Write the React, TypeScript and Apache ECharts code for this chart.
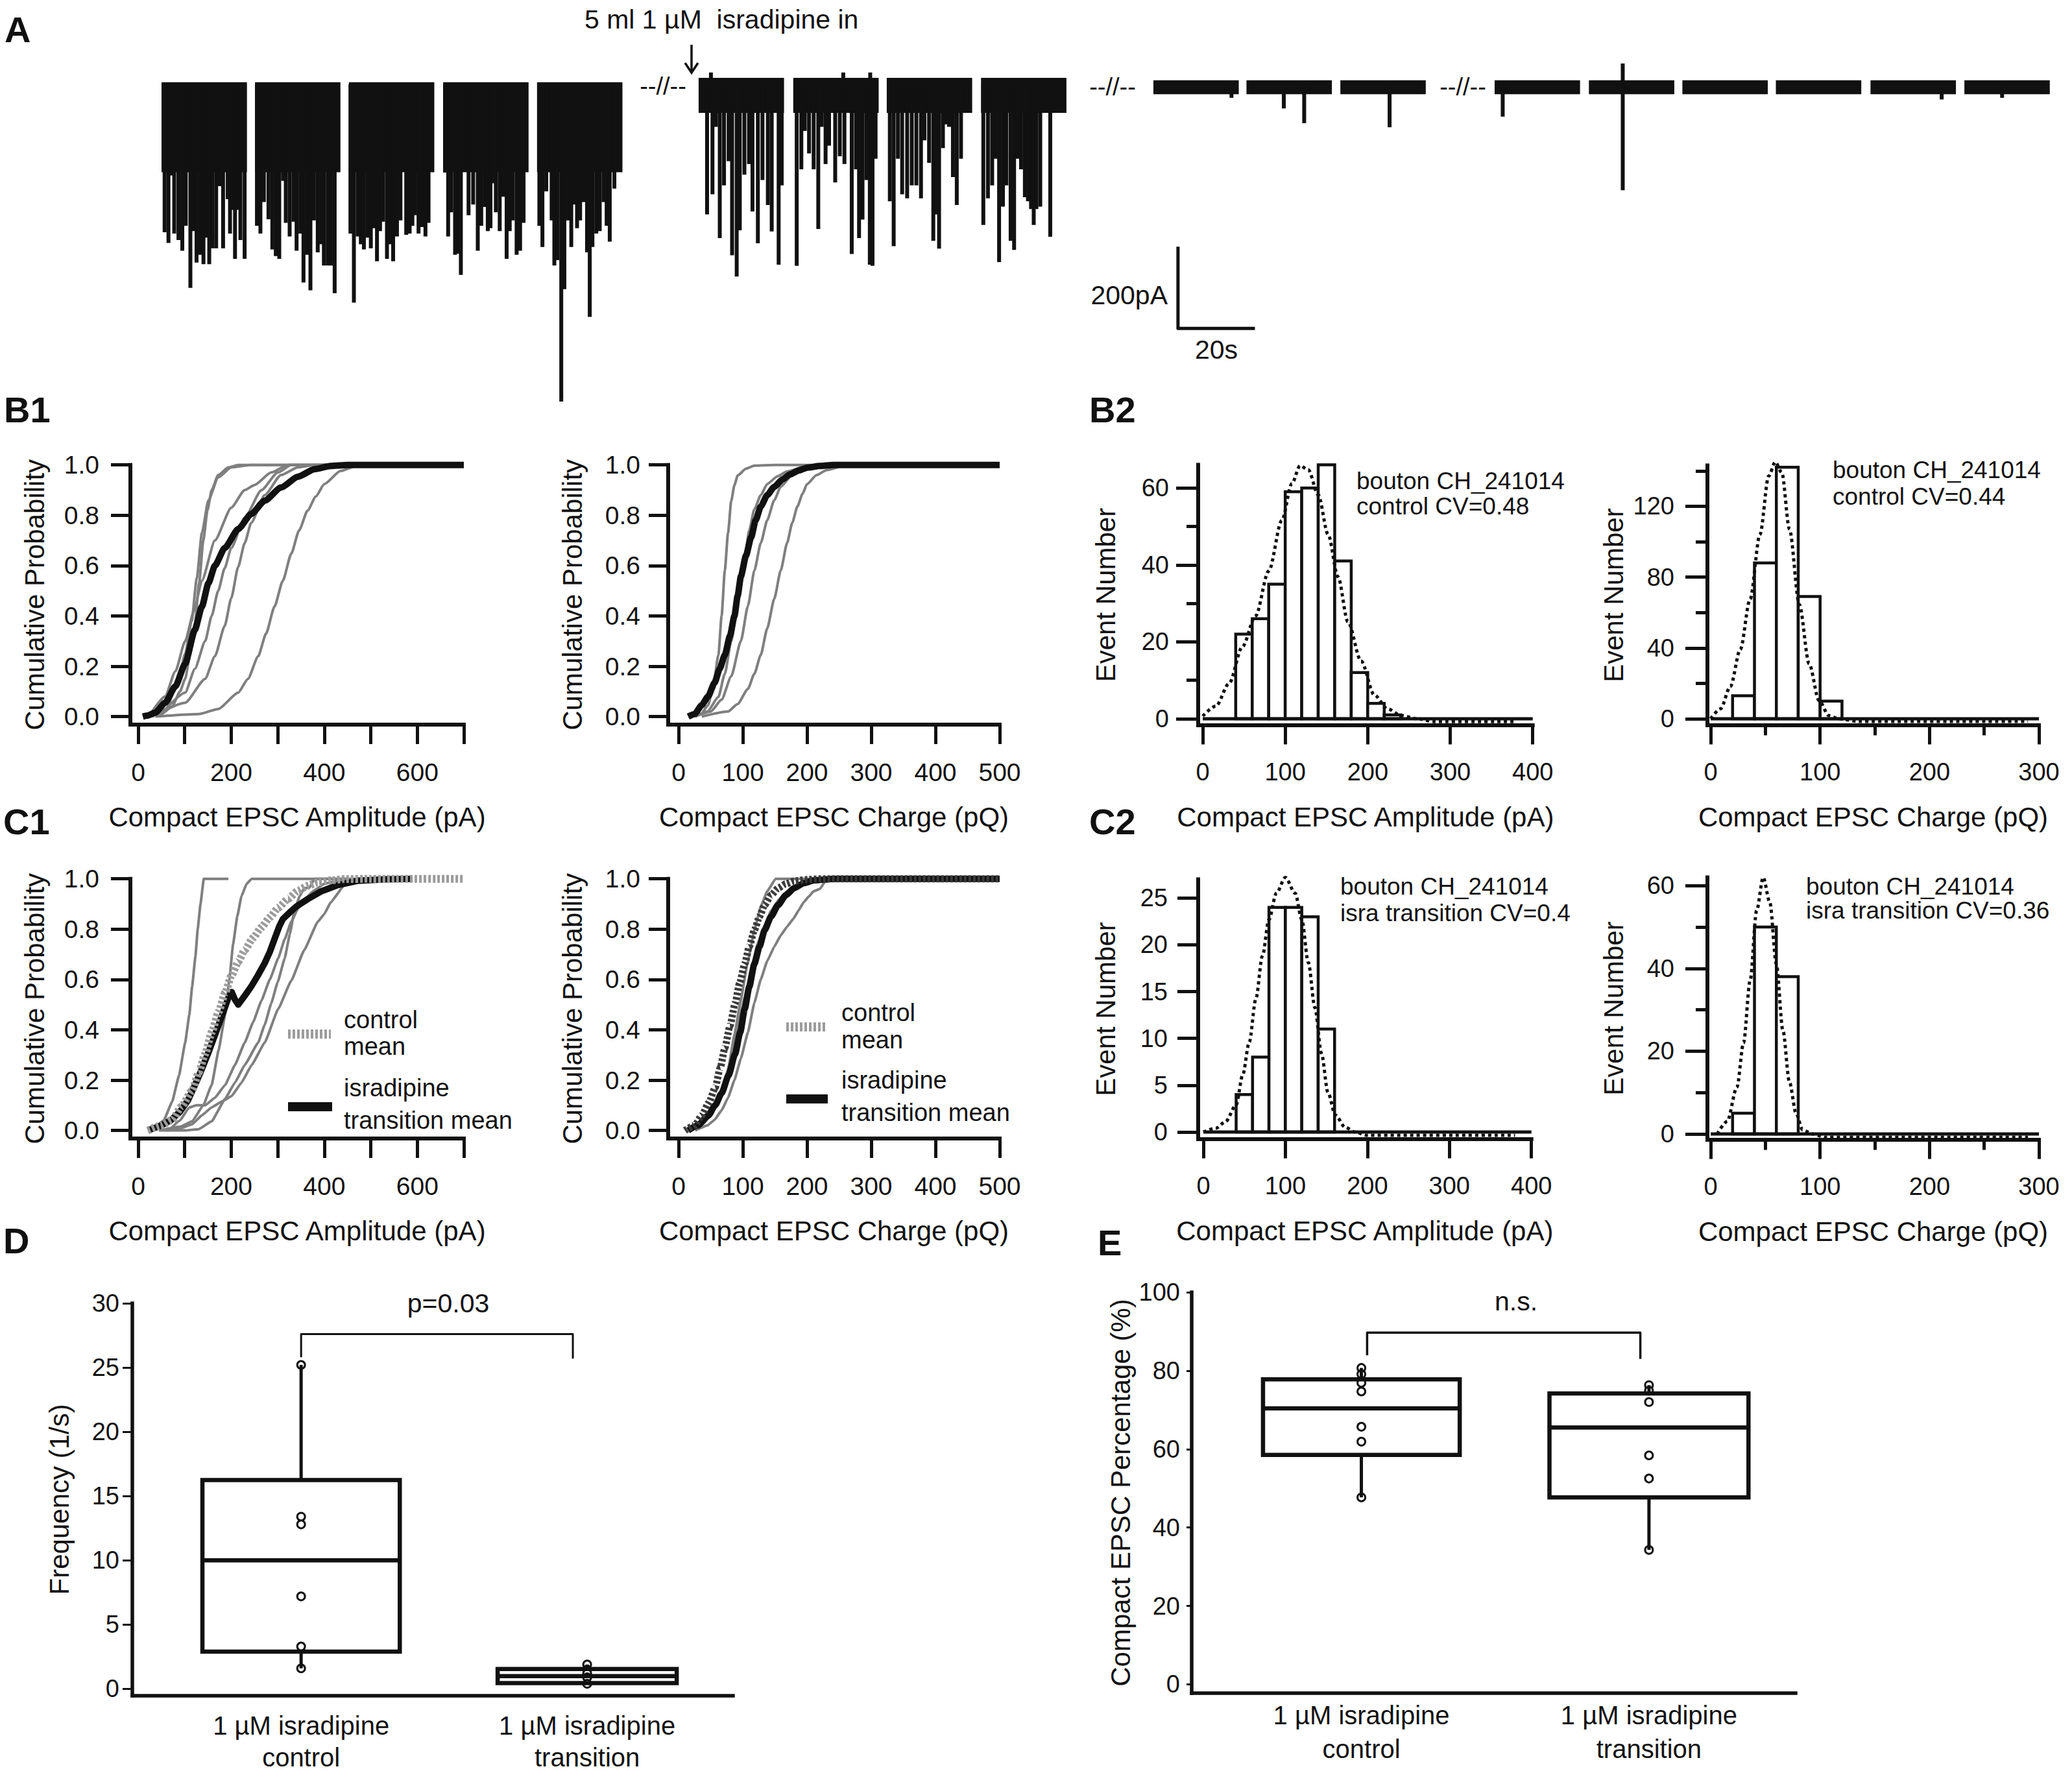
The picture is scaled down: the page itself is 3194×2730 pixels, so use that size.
import React, { useEffect, useRef } from "react";
import * as echarts from "echarts";

const FONT = "'Liberation Sans', Arial, Helvetica, sans-serif";
const INK = "#111111";
const GREY = "#7f7f7f";
const LIGHT_GREY = "#9c9c9c";

// ---------------- Panel A : current trace (time in s, current in pA) ----------------
const traceSegmentStarts = [0, 24.3, 48.7, 73.2, 97.6, 139.6, 164.2, 188.5, 213.0, 257.8, 282.0, 306.4, 346.5, 371.0, 395.3, 419.6, 444.2, 468.6];
const traceSegmentLength = 22.2;
const traceNoiseTop = [5, 5, 5, 5, 5, 16, 16, 16, 16, 10, 10, 10, 10, 10, 10, 10, 10, 10];
const traceDenseBottom = [-215, -215, -215, -215, -215, -70, -70, -70, -70, -24, -24, -24, -24, -24, -24, -24, -24, -24];
const traceEventsControl = [
  [0.8, -362], [1.8, -388], [2.4, -223], [3.3, -365], [4.4, -381], [5.4, -407], [6.3, -346], [7.5, -498], [8.3, -359], [9.1, -436], [10.1, -417], [10.9, -440], [11.8, -375], [12.4, -440], [13.2, -401], [14.2, -401], [15.1, -249], [16.0, -401], [17.2, -281], [17.8, -365], [18.4, -307], [19.1, -427], [19.8, -307], [20.5, -381], [21.6, -427],
  [24.8, -346], [25.7, -365], [26.6, -288], [27.8, -330], [28.8, -404], [29.7, -420], [30.6, -427], [31.6, -236], [32.3, -339], [33.3, -372], [34.3, -336], [35.1, -407], [36.1, -365], [36.9, -485], [37.8, -417], [38.7, -504], [39.6, -333], [40.6, -411], [41.5, -391], [42.2, -443], [43.2, -443], [44.0, -443], [45.0, -511],
  [49.1, -365], [50.0, -534], [51.0, -372], [51.8, -391], [52.6, -404], [53.6, -375], [54.4, -401], [55.2, -352], [56.0, -433], [56.8, -359], [57.6, -336], [58.6, -427], [59.4, -391], [60.2, -433], [61.2, -372], [62.1, -333], [63.6, -368], [64.5, -365], [65.2, -346], [65.9, -320], [66.8, -365], [67.7, -349], [68.6, -372], [69.4, -339],
  [73.7, -216], [74.5, -372], [75.3, -313], [76.3, -417], [77.2, -414], [77.8, -466], [79.8, -320], [81.0, -294], [82.2, -407], [83.1, -346], [84.0, -300], [84.8, -359], [85.5, -352], [86.1, -242], [86.9, -313], [87.9, -359], [88.7, -275], [89.7, -427], [90.5, -359], [91.3, -333], [92.3, -417], [93.2, -407], [94.1, -339],
  [98.2, -346], [99.0, -398], [100.0, -262], [101.4, -333], [102.1, -443], [102.9, -430], [103.9, -776], [104.7, -501], [105.6, -333], [106.5, -398], [107.3, -294], [108.0, -352], [108.8, -333], [109.7, -288], [110.6, -411], [111.3, -569], [112.0, -398], [113.0, -365], [113.9, -359], [114.9, -288], [115.7, -346], [116.5, -385], [117.7, -255],
];
const traceEventsIsradipineIn = [
  [141.8, -318], [142.8, 29], [143.2, -269], [144.1, -104], [145.1, -376], [146.2, -247], [147.4, -188], [148.3, -418], [149.5, -470], [150.3, -357], [151.5, -221], [152.7, -195], [153.6, -311], [155.0, -389], [156.2, -234], [157.6, -295], [158.6, -360], [160.4, -441], [161.2, -247],
  [165.1, -444], [166.3, -208], [167.2, -114], [168.3, -169], [169.5, -208], [170.7, -354], [171.6, -104], [172.6, -195], [173.5, -150], [175.1, -240], [176.3, -176], [177.2, 29], [177.5, -195], [179.4, -415], [180.5, -208], [181.3, -376], [182.2, -331], [183.2, -234], [184.1, -441], [184.2, 29], [184.8, -444], [185.6, -182],
  [189.3, -286], [190.3, -396], [191.4, -182], [192.5, -269], [193.8, -279], [195.0, -247], [196.2, -247], [197.4, -279], [198.3, -137], [199.5, -192], [200.6, -383], [201.4, -318], [202.1, -402], [203.1, -156], [203.8, -98], [204.7, -104], [205.7, -227], [206.7, -295], [207.8, -182], [209.1, -52],
  [213.6, -344], [214.8, -279], [215.9, -247], [216.8, -182], [217.7, -435], [218.7, -299], [219.6, -247], [220.7, -383], [221.6, -405], [222.5, -182], [223.4, -208], [224.4, -276], [225.2, -286], [226.0, -305], [226.7, -344], [227.4, -305], [228.4, -299], [229.3, -65], [230.2, -52], [231.0, -373], [231.9, -59],
];
const traceEventsLate = [
  [278.1, -33], [291.7, -59], [297.0, -95], [319.2, -105], [348.6, -79], [379.8, -259], [379.8, 51], [462.7, -37], [478.4, -33],
];
const scaleBarAnchor = [264.2, -397];
const scaleBarCurrent = 200; // pA
const scaleBarTime = 20; // s

// ---------------- B1 / C1 cumulative curves ----------------
const b1AmpMean = [[10, 0], [20, 0.004], [37, 0.016], [58, 0.055], [80, 0.12], [101, 0.21], [122, 0.345], [137, 0.437], [151, 0.53], [165, 0.6], [186, 0.67], [215, 0.745], [243, 0.805], [272, 0.858], [307, 0.91], [343, 0.953], [379, 0.983], [414, 0.996], [450, 1], [700, 1]];
const b1AmpCells = [
  [[16, 0], [50, 0.01], [73, 0.04], [90, 0.1], [101, 0.15], [112, 0.25], [122, 0.37], [131, 0.53], [140, 0.7], [149, 0.82], [158, 0.9], [172, 0.96], [194, 0.99], [215, 1], [450, 1]],
  [[30, 0], [60, 0.03], [87, 0.15], [101, 0.25], [115, 0.38], [126, 0.55], [137, 0.73], [151, 0.86], [172, 0.95], [200, 0.99], [243, 1], [450, 1]],
  [[23, 0], [58, 0.08], [80, 0.18], [101, 0.3], [120, 0.42], [137, 0.54], [165, 0.7], [200, 0.83], [229, 0.9], [250, 0.92], [286, 0.97], [322, 1], [450, 1]],
  [[30, 0], [101, 0.055], [144, 0.15], [165, 0.24], [186, 0.36], [200, 0.47], [215, 0.595], [229, 0.69], [243, 0.77], [272, 0.88], [307, 0.96], [343, 0.99], [379, 1], [500, 1]],
  [[37, 0], [130, 0.01], [172, 0.03], [215, 0.095], [236, 0.15], [258, 0.24], [275, 0.33], [293, 0.437], [311, 0.54], [329, 0.647], [346, 0.74], [364, 0.818], [382, 0.875], [400, 0.924], [435, 0.976], [471, 0.997], [485, 1], [600, 1]],
  [[44, 0], [101, 0.095], [122, 0.19], [144, 0.3], [158, 0.4], [172, 0.5], [186, 0.59], [200, 0.67], [229, 0.79], [265, 0.9], [300, 0.97], [329, 1], [450, 1]],
];
const b1ChgMean = [[15, 0], [25, 0.01], [36, 0.045], [46, 0.08], [56, 0.134], [64, 0.19], [72, 0.245], [80, 0.32], [87, 0.4], [92, 0.48], [97, 0.557], [105, 0.64], [113, 0.713], [120, 0.78], [128, 0.835], [138, 0.88], [149, 0.913], [162, 0.943], [174, 0.963], [187, 0.978], [200, 0.989], [220, 0.996], [241, 1], [500, 1]];
const b1ChgCells = [
  [[15, 0], [35, 0.01], [46, 0.045], [54, 0.12], [62, 0.245], [67, 0.4], [72, 0.58], [77, 0.73], [82, 0.857], [87, 0.92], [92, 0.958], [105, 0.985], [118, 0.997], [149, 1], [300, 1]],
  [[26, 0], [45, 0.02], [62, 0.078], [72, 0.17], [82, 0.3], [92, 0.46], [103, 0.635], [110, 0.74], [118, 0.824], [128, 0.88], [138, 0.924], [154, 0.955], [169, 0.974], [200, 0.997], [250, 1], [350, 1]],
  [[26, 0], [50, 0.02], [67, 0.067], [82, 0.16], [97, 0.3], [108, 0.44], [118, 0.58], [128, 0.69], [138, 0.78], [149, 0.86], [159, 0.913], [175, 0.955], [190, 0.98], [220, 1], [350, 1]],
  [[36, 0], [77, 0.02], [92, 0.05], [108, 0.11], [118, 0.17], [128, 0.245], [138, 0.35], [149, 0.468], [159, 0.58], [169, 0.69], [177, 0.77], [185, 0.835], [193, 0.885], [200, 0.924], [215, 0.96], [231, 0.98], [262, 1], [350, 1]],
];
const c1AmpControlMean = [[21, 0], [50, 0.02], [73, 0.042], [93, 0.095], [116, 0.159], [130, 0.23], [144, 0.304], [158, 0.39], [173, 0.472], [187, 0.548], [201, 0.617], [215, 0.67], [229, 0.717], [247, 0.765], [265, 0.807], [283, 0.847], [301, 0.885], [322, 0.92], [343, 0.952], [364, 0.972], [386, 0.986], [414, 0.994], [443, 0.999], [500, 1], [700, 1]];
const c1AmpIsraMean = [[21, 0], [50, 0.02], [71, 0.042], [90, 0.075], [107, 0.12], [122, 0.18], [136, 0.24], [150, 0.305], [164, 0.374], [179, 0.45], [194, 0.528], [201, 0.55], [208, 0.52], [215, 0.5], [229, 0.535], [243, 0.572], [257, 0.615], [272, 0.665], [283, 0.71], [293, 0.76], [303, 0.81], [311, 0.84], [325, 0.865], [340, 0.89], [365, 0.92], [393, 0.95], [429, 0.975], [471, 0.992], [530, 0.998], [590, 1]];
const c1AmpCells = [
  [[30, 0], [55, 0.04], [73, 0.114], [88, 0.22], [101, 0.349], [110, 0.46], [116, 0.572], [123, 0.69], [128, 0.8], [134, 0.9], [141, 1], [194, 1]],
  [[45, 0], [90, 0.015], [116, 0.036], [140, 0.1], [158, 0.181], [173, 0.32], [187, 0.461], [196, 0.6], [204, 0.74], [213, 0.85], [222, 0.93], [233, 0.98], [244, 1], [443, 1]],
  [[45, 0], [100, 0], [130, 0.005], [158, 0.036], [187, 0.126], [208, 0.19], [229, 0.26], [258, 0.349], [272, 0.42], [286, 0.505], [300, 0.59], [315, 0.684], [326, 0.78], [336, 0.874], [347, 0.93], [357, 0.963], [368, 0.965], [379, 1], [450, 1]],
  [[60, 0], [87, 0.005], [116, 0.025], [137, 0.06], [158, 0.092], [180, 0.115], [201, 0.137], [222, 0.19], [244, 0.26], [272, 0.349], [301, 0.483], [329, 0.595], [357, 0.717], [386, 0.829], [400, 0.86], [414, 0.907], [443, 0.974], [471, 1], [520, 1]],
  [[66, 0], [90, 0.04], [109, 0.09], [125, 0.1], [144, 0.1], [165, 0.13], [187, 0.181], [208, 0.26], [229, 0.349], [247, 0.43], [265, 0.516], [283, 0.6], [301, 0.684], [315, 0.76], [329, 0.829], [343, 0.88], [357, 0.918], [379, 0.955], [400, 0.98], [443, 1], [520, 1]],
];
const c1ChgControlMean = [[10, 0], [25, 0.02], [36, 0.059], [47, 0.11], [57, 0.17], [65, 0.25], [72, 0.327], [80, 0.415], [88, 0.505], [95, 0.585], [103, 0.662], [110, 0.73], [118, 0.796], [126, 0.85], [134, 0.896], [144, 0.935], [155, 0.963], [167, 0.98], [180, 0.991], [200, 0.997], [221, 1], [500, 1]];
const c1ChgIsraMean = [[15, 0], [30, 0.02], [46, 0.059], [57, 0.1], [67, 0.148], [78, 0.22], [88, 0.304], [96, 0.39], [103, 0.483], [110, 0.57], [118, 0.662], [126, 0.73], [134, 0.796], [144, 0.85], [155, 0.896], [167, 0.935], [180, 0.963], [195, 0.983], [211, 0.994], [242, 1], [500, 1]];
const c1ChgCells = [
  [[15, 0], [35, 0.02], [51, 0.059], [65, 0.14], [77, 0.241], [87, 0.38], [97, 0.52], [107, 0.66], [118, 0.796], [128, 0.89], [138, 0.95], [151, 1], [246, 1]],
  [[26, 0], [45, 0.02], [56, 0.042], [67, 0.08], [77, 0.13], [87, 0.2], [97, 0.286], [108, 0.39], [118, 0.507], [128, 0.6], [138, 0.673], [149, 0.73], [159, 0.775], [169, 0.81], [179, 0.842], [187, 0.875], [195, 0.908], [203, 0.93], [210, 0.95], [220, 0.96], [231, 1], [500, 1]],
  [[20, 0], [40, 0.03], [56, 0.086], [70, 0.18], [82, 0.286], [92, 0.41], [103, 0.53], [113, 0.64], [123, 0.742], [134, 0.815], [144, 0.873], [157, 0.92], [169, 0.95], [185, 0.975], [200, 0.99], [220, 1], [400, 1]],
];

// ---------------- B2 / C2 histograms (bin width 20) ----------------
const histBinWidth = 20;
const b2AmpCounts = [0, 0, 22, 26, 35, 59, 60, 66, 41, 12, 4, 1, 0, 0, 0, 0, 0, 0, 0, 0];
const b2ChgCounts = [0, 13, 88, 142, 69, 10, 0, 0, 0, 0, 0, 0, 0, 0, 0];
const c2AmpCounts = [0, 0, 4, 8, 24, 24, 23, 11, 0, 0, 0, 0, 0, 0, 0, 0, 0, 0, 0, 0];
const c2ChgCounts = [0, 5, 50, 38, 0, 0, 0, 0, 0, 0, 0, 0, 0, 0, 0];
const b2AmpFit = [[0, 0.7], [16, 3.3], [32, 9.2], [48, 18.7], [64, 26.7], [80, 38.4], [96, 51.6], [108, 61.1], [118, 65.8], [128, 64.7], [140, 58.2], [152, 47.9], [164, 36.9], [176, 25.2], [192, 15], [208, 6.2], [224, 2.6], [240, 0.9], [260, 0], [280, -0.7], [380, -0.7]];
const b2ChgFit = [[0, 0], [9, 5.6], [18, 18.3], [27, 39], [36, 67.5], [45, 104], [53, 137], [59, 145], [65, 139], [72, 107], [81, 64.5], [90, 31], [99, 10.3], [108, 1.8], [117, 0], [135, -1.5], [290, -1.5]];
const c2AmpFit = [[0, 0], [15, 0.4], [27, 1.1], [40, 2.9], [48, 6.1], [56, 9.6], [64, 14.2], [72, 18.8], [80, 22.7], [89, 25.5], [100, 27.2], [112, 25.5], [120, 22.7], [128, 18.1], [136, 13.3], [144, 8.4], [152, 4.2], [161, 1.8], [173, 0.5], [185, 0], [200, -0.35], [380, -0.35]];
const c2ChgFit = [[6, 0], [15, 3], [24, 11.3], [30, 22], [36, 37], [42, 54], [48, 62], [54, 56], [60, 41], [66, 25], [72, 12.5], [78, 5], [84, 1], [93, 0], [105, -0.8], [290, -0.8]];

// ---------------- D / E box plots ----------------
const boxCategories = ["1 µM isradipine\ncontrol", "1 µM isradipine\ntransition"];
const freqBoxes = [[1.6, 2.9, 10.0, 16.25, 25.2], [0.4, 0.46, 1.0, 1.55, 1.9]]; // min, q1, median, q3, max
const freqPoints = [[25.2, 13.4, 12.8, 7.2, 3.3, 1.6], [1.9, 1.5, 1.2, 0.9, 0.4]];
const pctBoxes = [[47.7, 58.5, 70.4, 77.8, 80.7], [34.3, 47.7, 65.5, 74.2, 76.3]];
const pctPoints = [[80.7, 79.1, 76.9, 74.7, 65.7, 61.9, 47.7], [76.3, 74.9, 72.0, 58.4, 52.5, 34.3]];
const freqBracket = [[1, 25.8], [1, 27.6], [1.95, 27.6], [1.95, 25.7]];
const pctBracket = [[1.02, 83.9], [1.02, 89.7], [1.97, 89.7], [1.97, 83.0]];

// ---------------- layout ----------------
const gridLayout = [
  { left: 249, top: 92.2, width: 2909, height: 541.9 }, // A
  { left: 201, top: 716.7, width: 514, height: 400.3 }, // B1 amp
  { left: 1030, top: 716.7, width: 511, height: 400.3 }, // B1 chg
  { left: 1847, top: 716.6, width: 515.7, height: 400.9 }, // B2 amp
  { left: 2632, top: 717.6, width: 511, height: 399.9 }, // B2 chg
  { left: 201, top: 1354.7, width: 514, height: 400.3 }, // C1 amp
  { left: 1030, top: 1354.7, width: 511, height: 400.3 }, // C1 chg
  { left: 1847, top: 1355.4, width: 513.7, height: 400.2 }, // C2 amp
  { left: 2632, top: 1352.4, width: 511, height: 404.2 }, // C2 chg
  { left: 204, top: 2009, width: 926, height: 604.7 }, // D
  { left: 1837, top: 1992, width: 931, height: 618 }, // E
];

const range = (a: number, b: number, s: number) => {
  const out: number[] = [];
  for (let v = a; v <= b + 1e-9; v += s) out.push(Math.round(v * 1000) / 1000);
  return out;
};

function axis(o: any) {
  return {
    type: "value",
    gridIndex: o.grid,
    min: o.min,
    max: o.max,
    position: o.position,
    show: o.show !== false,
    axisLine: { show: o.line !== false, onZero: false, lineStyle: { color: INK, width: o.lineWidth ?? 6, cap: "square" } },
    axisTick: {
      show: !!o.ticks,
      customValues: o.ticks,
      length: o.tickLen ?? 30,
      inside: false,
      lineStyle: { color: INK, width: o.tickWidth ?? 5 },
    },
    axisLabel: {
      show: !!o.labels,
      customValues: o.labels,
      formatter: o.fmt,
      margin: o.margin ?? 50,
      color: INK,
      fontSize: o.fontSize ?? 39,
      fontFamily: FONT,
      lineHeight: o.lineHeight,
    },
    splitLine: { show: false },
    minorTick: { show: false },
    name: o.name,
    nameLocation: "middle",
    nameGap: o.nameGap,
    nameMoveOverlap: false,
    nameTextStyle: { color: INK, fontSize: 42, fontFamily: FONT },
  };
}

function curve(idx: number, data: number[][], color: string, width: number, opts: any = {}) {
  return {
    type: "line",
    xAxisIndex: idx,
    yAxisIndex: idx,
    data,
    symbol: "none",
    showSymbol: false,
    silent: true,
    smooth: opts.smooth ?? 0.2,
    smoothMonotone: "x",
    clip: false,
    lineStyle: { color, width, type: opts.dash ?? "solid", cap: "butt", join: "round" },
    z: opts.z ?? 3,
  };
}

function histSeries(idx: number, counts: number[]) {
  return {
    type: "custom",
    xAxisIndex: idx,
    yAxisIndex: idx,
    silent: true,
    z: 3,
    data: counts.map((c, i) => [i * histBinWidth, (i + 1) * histBinWidth, c]).filter((d) => d[2] > 0),
    renderItem: (params: any, api: any) => {
      const p0 = api.coord([api.value(0), api.value(2)]);
      const p1 = api.coord([api.value(1), 0]);
      return {
        type: "rect",
        shape: { x: p0[0], y: p0[1], width: p1[0] - p0[0], height: p1[1] - p0[1] },
        style: { fill: "#ffffff", stroke: INK, lineWidth: 4.5 },
      };
    },
  };
}

function histZero(idx: number, xmax: number) {
  return curve(idx, [[0, 0], [xmax, 0]], INK, 5, { smooth: false, z: 4 });
}

function fitSeries(idx: number, data: number[][]) {
  return curve(idx, data, INK, 5, { smooth: 0.3, dash: [5, 5], z: 5 });
}

function boxSeries(idx: number, boxes: number[][], halfWidths: number[]) {
  return {
    type: "custom",
    xAxisIndex: idx,
    yAxisIndex: idx,
    silent: true,
    z: 6,
    data: boxes.map((b, i) => [i + 1, ...b]),
    renderItem: (params: any, api: any) => {
      const x = api.value(0);
      const hw = halfWidths[params.dataIndex];
      const mn = api.value(1), q1 = api.value(2), md = api.value(3), q3 = api.value(4), mx = api.value(5);
      const tl = api.coord([x - hw, q3]);
      const br = api.coord([x + hw, q1]);
      const cTop = api.coord([x, mx]);
      const cQ3 = api.coord([x, q3]);
      const cQ1 = api.coord([x, q1]);
      const cMin = api.coord([x, mn]);
      const mL = api.coord([x - hw, md]);
      const mR = api.coord([x + hw, md]);
      const st = { stroke: INK, lineWidth: 6.5 };
      return {
        type: "group",
        children: [
          { type: "line", shape: { x1: cQ3[0], y1: cQ3[1], x2: cTop[0], y2: cTop[1] }, style: { stroke: INK, lineWidth: 5 } },
          { type: "line", shape: { x1: cQ1[0], y1: cQ1[1], x2: cMin[0], y2: cMin[1] }, style: { stroke: INK, lineWidth: 5 } },
          { type: "rect", shape: { x: tl[0], y: tl[1], width: br[0] - tl[0], height: br[1] - tl[1] }, style: { ...st, fill: "none" } },
          { type: "line", shape: { x1: mL[0], y1: mL[1], x2: mR[0], y2: mR[1] }, style: st },
        ],
      };
    },
  };
}

function pointSeries(idx: number, pts: number[][]) {
  const data: number[][] = [];
  pts.forEach((arr, i) => arr.forEach((v) => data.push([i + 1, v])));
  return {
    type: "scatter",
    xAxisIndex: idx,
    yAxisIndex: idx,
    silent: true,
    z: 4,
    symbol: "circle",
    symbolSize: 12,
    itemStyle: { color: "#ffffff", borderColor: INK, borderWidth: 3, opacity: 1 },
    data,
  };
}

function txt(x: number, y: number, text: string, o: any = {}) {
  return {
    type: "text",
    x,
    y,
    z: 100,
    silent: true,
    style: {
      text,
      fill: INK,
      fontSize: o.size ?? 38,
      fontFamily: FONT,
      fontWeight: o.weight ?? "normal",
      align: o.align ?? "left",
      verticalAlign: "middle",
    },
  };
}

function gline(x1: number, y1: number, x2: number, y2: number, color: string, w: number, dash?: number[]) {
  return { type: "line", z: 100, silent: true, shape: { x1, y1, x2, y2 }, style: { stroke: color, lineWidth: w, lineDash: dash } };
}

function buildOption() {
  const grid = gridLayout.map((g) => ({ ...g, containLabel: false, outerBoundsMode: "none" }));

  const prob = [0, 0.2, 0.4, 0.6, 0.8, 1];
  const probFmt = (v: number) => v.toFixed(1);
  const catFmt = (v: number) => boxCategories[Math.round(v) - 1];

  const xAxis = [
    axis({ grid: 0, min: 0, max: 490.5, show: false }),
    axis({ grid: 1, min: -16.7, max: 700, ticks: range(0, 700, 100), labels: [0, 200, 400, 600], margin: 54, name: "Compact EPSC Amplitude (pA)", nameGap: 121 }),
    axis({ grid: 2, min: -16.2, max: 500, ticks: range(0, 500, 100), labels: range(0, 500, 100), margin: 54, name: "Compact EPSC Charge (pQ)", nameGap: 121 }),
    axis({ grid: 3, min: -5.5, max: 400, ticks: range(0, 400, 100), labels: range(0, 400, 100), margin: 53, fontSize: 38, name: "Compact EPSC Amplitude (pA)", nameGap: 121 }),
    axis({ grid: 4, min: -3, max: 300, ticks: range(0, 300, 100), labels: range(0, 300, 100), margin: 53, fontSize: 38, name: "Compact EPSC Charge (pQ)", nameGap: 121 }),
    axis({ grid: 5, min: -16.7, max: 700, ticks: range(0, 700, 100), labels: [0, 200, 400, 600], margin: 54, name: "Compact EPSC Amplitude (pA)", nameGap: 121 }),
    axis({ grid: 6, min: -16.2, max: 500, ticks: range(0, 500, 100), labels: range(0, 500, 100), margin: 54, name: "Compact EPSC Charge (pQ)", nameGap: 121 }),
    axis({ grid: 7, min: -6.3, max: 400, ticks: range(0, 400, 100), labels: range(0, 400, 100), margin: 53, fontSize: 38, name: "Compact EPSC Amplitude (pA)", nameGap: 121 }),
    axis({ grid: 8, min: -3, max: 300, ticks: range(0, 300, 100), labels: range(0, 300, 100), margin: 53, fontSize: 38, name: "Compact EPSC Charge (pQ)", nameGap: 121 }),
    axis({ grid: 9, min: 0.41, max: 2.51, lineWidth: 5.5, labels: [1, 2], fmt: catFmt, fontSize: 40, lineHeight: 49, margin: 22 }),
    axis({ grid: 10, min: 0.41, max: 2.51, lineWidth: 5.5, labels: [1, 2], fmt: catFmt, fontSize: 40, lineHeight: 52, margin: 8 }),
    // minor x ticks
    axis({ grid: 4, min: -3, max: 300, position: "bottom", line: false, ticks: [50, 150, 250], tickLen: 16 }),
    axis({ grid: 8, min: -3, max: 300, position: "bottom", line: false, ticks: [50, 150, 250], tickLen: 16 }),
  ];

  const yAxis = [
    axis({ grid: 0, min: -800, max: 60, show: false }),
    axis({ grid: 1, min: -0.032, max: 1, ticks: prob, labels: prob, fmt: probFmt, margin: 48, name: "Cumulative Probability", nameGap: 127 }),
    axis({ grid: 2, min: -0.032, max: 1, ticks: prob, labels: prob, fmt: probFmt, margin: 43, name: "Cumulative Probability", nameGap: 127 }),
    axis({ grid: 3, min: -1.6, max: 66, ticks: [0, 20, 40, 60], labels: [0, 20, 40, 60], tickLen: 34, margin: 45, fontSize: 38, name: "Event Number", nameGap: 122 }),
    axis({ grid: 4, min: -3.5, max: 143, ticks: [0, 40, 80, 120], labels: [0, 40, 80, 120], tickLen: 34, margin: 51, fontSize: 38, name: "Event Number", nameGap: 124 }),
    axis({ grid: 5, min: -0.032, max: 1, ticks: prob, labels: prob, fmt: probFmt, margin: 48, name: "Cumulative Probability", nameGap: 127 }),
    axis({ grid: 6, min: -0.032, max: 1, ticks: prob, labels: prob, fmt: probFmt, margin: 43, name: "Cumulative Probability", nameGap: 127 }),
    axis({ grid: 7, min: -0.73, max: 27, ticks: range(0, 25, 5), labels: range(0, 25, 5), tickLen: 32, margin: 47, fontSize: 38, name: "Event Number", nameGap: 122 }),
    axis({ grid: 8, min: -1.35, max: 62, ticks: [0, 20, 40, 60], labels: [0, 20, 40, 60], tickLen: 34, margin: 51, fontSize: 38, name: "Event Number", nameGap: 124 }),
    axis({ grid: 9, min: -0.515, max: 30, lineWidth: 5.5, ticks: range(0, 30, 5), labels: range(0, 30, 5), tickLen: 15, tickWidth: 3, margin: 20, fontSize: 38, name: "Frequency (1/s)", nameGap: 92 }),
    axis({ grid: 10, min: -2.24, max: 100, lineWidth: 5.5, ticks: range(0, 100, 20), labels: range(0, 100, 20), tickLen: 8, tickWidth: 3, margin: 18, fontSize: 38, name: "Compact EPSC Percentage (%)", nameGap: 89 }),
    // minor y ticks
    axis({ grid: 3, min: -1.6, max: 66, position: "left", line: false, ticks: [10, 30, 50], tickLen: 18 }),
    axis({ grid: 4, min: -3.5, max: 143, position: "left", line: false, ticks: [20, 60, 100, 140], tickLen: 18 }),
    axis({ grid: 8, min: -1.35, max: 62, position: "left", line: false, ticks: [10, 30, 50], tickLen: 18 }),
  ];

  const series: any[] = [];

  // ----- Panel A -----
  series.push({
    type: "custom",
    xAxisIndex: 0,
    yAxisIndex: 0,
    silent: true,
    z: 2,
    data: traceSegmentStarts.map((s, i) => [s, s + traceSegmentLength, traceNoiseTop[i], traceDenseBottom[i]]),
    renderItem: (params: any, api: any) => {
      const p0 = api.coord([api.value(0), api.value(2)]);
      const p1 = api.coord([api.value(1), api.value(3)]);
      return { type: "rect", shape: { x: p0[0], y: p0[1], width: p1[0] - p0[0], height: p1[1] - p0[1] }, style: { fill: INK } };
    },
  });
  series.push({
    type: "custom",
    xAxisIndex: 0,
    yAxisIndex: 0,
    silent: true,
    z: 2,
    data: [...traceEventsControl, ...traceEventsIsradipineIn, ...traceEventsLate],
    renderItem: (params: any, api: any) => {
      const a = api.coord([api.value(0), 0]);
      const b = api.coord([api.value(0), api.value(1)]);
      return { type: "line", shape: { x1: a[0], y1: a[1], x2: b[0], y2: b[1] }, style: { stroke: INK, lineWidth: 6 } };
    },
  });
  series.push(
    curve(0, [
      [scaleBarAnchor[0], scaleBarAnchor[1]],
      [scaleBarAnchor[0], scaleBarAnchor[1] - scaleBarCurrent],
      [scaleBarAnchor[0] + scaleBarTime, scaleBarAnchor[1] - scaleBarCurrent],
    ], INK, 5, { smooth: false })
  );

  // ----- B1 -----
  b1AmpCells.forEach((d) => series.push(curve(1, d, GREY, 4)));
  series.push(curve(1, b1AmpMean, INK, 10, { z: 4 }));
  b1ChgCells.forEach((d) => series.push(curve(2, d, GREY, 4)));
  series.push(curve(2, b1ChgMean, INK, 10, { z: 4 }));

  // ----- B2 -----
  series.push(histZero(3, 400), histSeries(3, b2AmpCounts), fitSeries(3, b2AmpFit));
  series.push(histZero(4, 300), histSeries(4, b2ChgCounts), fitSeries(4, b2ChgFit));

  // ----- C1 -----
  c1AmpCells.forEach((d) => series.push(curve(5, d, GREY, 4, { smooth: 0.1 })));
  series.push(curve(5, c1AmpIsraMean, INK, 10, { z: 4, smooth: false }));
  series.push(curve(5, c1AmpControlMean, LIGHT_GREY, 12, { z: 5, dash: [4, 3] }));
  c1ChgCells.forEach((d) => series.push(curve(6, d, GREY, 4, { smooth: 0.1 })));
  series.push(curve(6, c1ChgIsraMean, INK, 10, { z: 4 }));
  series.push(curve(6, c1ChgControlMean, "#3a3a3a", 11, { z: 5, dash: [4, 3] }));

  // ----- C2 -----
  series.push(histZero(7, 400), histSeries(7, c2AmpCounts), fitSeries(7, c2AmpFit));
  series.push(histZero(8, 300), histSeries(8, c2ChgCounts), fitSeries(8, c2ChgFit));

  // ----- D -----
  series.push(pointSeries(9, freqPoints));
  series.push(boxSeries(9, freqBoxes, [0.345, 0.313]));
  series.push(curve(9, freqBracket, INK, 3, { smooth: false }));

  // ----- E -----
  series.push(pointSeries(10, pctPoints));
  series.push(boxSeries(10, pctBoxes, [0.342, 0.346]));
  series.push(curve(10, pctBracket, INK, 3.5, { smooth: false }));

  const graphic = [
    // panel letters
    txt(7, 45, "A", { size: 56, weight: "bold" }),
    txt(6, 631, "B1", { size: 56, weight: "bold" }),
    txt(1679, 631, "B2", { size: 56, weight: "bold" }),
    txt(5, 1266, "C1", { size: 56, weight: "bold" }),
    txt(1679, 1266, "C2", { size: 56, weight: "bold" }),
    txt(5, 1912, "D", { size: 56, weight: "bold" }),
    txt(1692, 1915, "E", { size: 56, weight: "bold" }),
    // panel A annotations
    txt(901, 30, "5 ml 1 µM  isradipine in", { size: 41 }),
    gline(1066, 69, 1066, 110, INK, 3.5),
    { type: "polyline", z: 100, silent: true, shape: { points: [[1056, 97], [1066, 112], [1076, 97]] }, style: { stroke: INK, lineWidth: 3.5, fill: "none" } },
    txt(1022, 133, "--//--", { size: 38, align: "center" }),
    txt(1715, 134, "--//--", { size: 38, align: "center" }),
    txt(2255, 134, "--//--", { size: 38, align: "center" }),
    txt(1800, 455, "200pA", { size: 41, align: "right" }),
    txt(1875, 539, "20s", { size: 41, align: "center" }),
    // histogram annotations
    txt(2091, 741, "bouton CH_241014", { size: 37 }),
    txt(2091, 780, "control CV=0.48", { size: 37 }),
    txt(2825, 724, "bouton CH_241014", { size: 37 }),
    txt(2825, 765, "control CV=0.44", { size: 37 }),
    txt(2066, 1366, "bouton CH_241014", { size: 37 }),
    txt(2066, 1407, "isra transition CV=0.4", { size: 37 }),
    txt(2784, 1366, "bouton CH_241014", { size: 37 }),
    txt(2784, 1403, "isra transition CV=0.36", { size: 37 }),
    // C1 legends
    gline(444, 1594, 510, 1594, LIGHT_GREY, 14, [4, 3]),
    txt(530, 1572, "control"),
    txt(530, 1613, "mean"),
    gline(444, 1706, 512, 1706, INK, 14),
    txt(530, 1677, "isradipine"),
    txt(530, 1727, "transition mean"),
    gline(1212, 1583, 1275, 1583, LIGHT_GREY, 14, [4, 3]),
    txt(1297, 1561, "control"),
    txt(1297, 1603, "mean"),
    gline(1212, 1694, 1276, 1694, INK, 14),
    txt(1297, 1665, "isradipine"),
    txt(1297, 1715, "transition mean"),
    // D / E significance
    txt(691, 2009, "p=0.03", { size: 41, align: "center" }),
    txt(2337, 2006, "n.s.", { size: 41, align: "center" }),
  ];

  return {
    animation: false,
    backgroundColor: "#ffffff",
    textStyle: { fontFamily: FONT },
    grid,
    xAxis,
    yAxis,
    series,
    graphic: { elements: graphic },
  };
}

export default function App() {
  const ref = useRef<HTMLDivElement>(null);
  useEffect(() => {
    if (!ref.current) return;
    const chart = echarts.init(ref.current, undefined, { renderer: "svg" });
    chart.setOption(buildOption() as any);
    return () => chart.dispose();
  }, []);
  return (
    <div
      ref={ref}
      style={{ position: "absolute", left: 0, top: 0, width: 3194, height: 2730, background: "#ffffff" }}
    />
  );
}
